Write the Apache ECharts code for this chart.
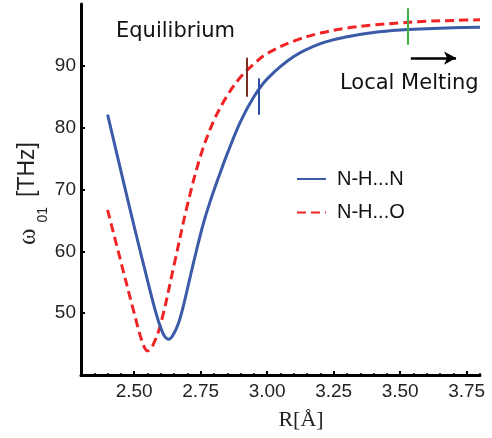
<!DOCTYPE html>
<html>
<head>
<meta charset="utf-8">
<script src="https://cdn.jsdelivr.net/npm/echarts@6/dist/echarts.min.js"></script>
<style>html,body{margin:0;padding:0;background:#fff;}#c{width:492px;height:438px;}</style>
</head>
<body>
<div id="c"></div>
<script>
// ---- data ----
const rNHN = [2.40, 2.45, 2.50, 2.55, 2.58, 2.60, 2.615, 2.63, 2.645, 2.665, 2.685, 2.71, 2.735, 2.76, 2.785, 2.82, 2.85, 2.90, 2.95, 3.00, 3.10, 3.20, 3.30, 3.40, 3.50, 3.60, 3.70, 3.80];
const wNHN = [82.1, 73.0, 64.0, 55.3, 50.3, 47.6, 46.2, 45.8, 46.4, 48.2, 51.2, 55.8, 60.3, 64.5, 68.0, 72.3, 75.8, 81.0, 85.0, 87.9, 91.5, 93.6, 94.7, 95.4, 95.8, 96.0, 96.15, 96.25];
const rNHO = [2.40, 2.45, 2.50, 2.53, 2.55, 2.57, 2.60, 2.65, 2.70, 2.75, 2.80, 2.85, 2.90, 2.95, 3.00, 3.10, 3.20, 3.30, 3.40, 3.50, 3.60, 3.70, 3.80];
const wNHO = [66.7, 58.3, 50.0, 45.4, 43.9, 44.8, 48.3, 57.8, 67.5, 75.5, 81.2, 85.2, 88.2, 90.3, 92.0, 94.0, 95.3, 96.1, 96.6, 96.95, 97.2, 97.35, 97.45];
const seriesNames = ['N-H...N', 'N-H...O'];
const markerR = [2.923, 2.967, 3.53];
const markerLow = [85.0, 82.1, 93.4];
const markerHigh = [91.3, 88.0, 99.3];
const arrowR = [3.54, 3.71];
const arrowW = 91.25;
const xTickLabels = [2.50, 2.75, 3.00, 3.25, 3.50, 3.75];
const xMinorTicks = [2.35, 2.40, 2.45, 2.55, 2.60, 2.65, 2.70, 2.80, 2.85, 2.90, 2.95, 3.05, 3.10, 3.15, 3.20, 3.30, 3.35, 3.40, 3.45, 3.55, 3.60, 3.65, 3.70, 3.80];
const yTickLabels = [50, 60, 70, 80, 90];
const annotations = ['Equilibrium', 'Local Melting'];

const BLUE = '#3b5ba8', RED = '#f02424';
const markerColors = ['#7a2e22', '#2f4fa6', '#3cb043'];

const chart = echarts.init(document.getElementById('c'), null, {renderer: 'canvas'});
const pair = (xs, ys) => xs.map((x, i) => [x, ys[i]]);

const markerLines = markerR.map((r, i) => [
  {coord: [r, markerLow[i]], lineStyle: {color: markerColors[i], width: 2, type: 'solid'}},
  {coord: [r, markerHigh[i]]}
]);

const option = {
  animation: false,
  backgroundColor: '#fff',
  grid: {left: 81, right: 12, top: 4, bottom: 63, containLabel: false},
  legend: {
    orient: 'vertical', left: 296, top: 169, padding: 0, itemWidth: 29, itemHeight: 14, itemGap: 13.5,
    itemStyle: {opacity: 0},
    textStyle: {fontFamily: 'Liberation Sans', fontSize: 20, color: '#111', padding: [0, 0, 0, 6]},
    data: seriesNames
  },
  xAxis: [{
    type: 'value', min: 2.3, max: 3.8,
    axisLine: {lineStyle: {color: '#000', width: 3}},
    axisTick: {inside: true, length: 4, lineStyle: {color: '#000', width: 2}, customValues: xTickLabels},
    axisLabel: {customValues: xTickLabels, formatter: v => v.toFixed(2), fontFamily: 'Liberation Sans', fontSize: 19, color: '#222', margin: 7},
    splitLine: {show: false},
    name: 'R[Å]', nameLocation: 'middle', nameGap: 34, nameMoveOverlap: false,
    nameTextStyle: {fontFamily: 'Liberation Serif', fontSize: 22, color: '#222', padding: [0, 0, 0, 41]}
  }, {
    type: 'value', min: 2.3, max: 3.8, position: 'bottom',
    axisLine: {show: false},
    axisTick: {inside: true, length: 2, lineStyle: {color: '#000', width: 1.5}, customValues: xMinorTicks},
    axisLabel: {show: false, customValues: xMinorTicks},
    splitLine: {show: false}
  }],
  yAxis: {
    type: 'value', min: 40, max: 100, interval: 10,
    axisLine: {show: true, lineStyle: {color: '#000', width: 3}},
    axisTick: {show: true, inside: true, length: 4, lineStyle: {color: '#000', width: 2}, customValues: yTickLabels},
    minorTick: {show: true, splitNumber: 5, length: 2, lineStyle: {color: '#000', width: 1.5}},
    axisLabel: {customValues: yTickLabels, fontFamily: 'Liberation Sans', fontSize: 19, color: '#222', margin: 5},
    splitLine: {show: false},
    name: '{w|ω}{s|01}{t|[THz]}', nameLocation: 'middle', nameRotate: 90, nameGap: 31, nameMoveOverlap: false,
    nameTextStyle: {
      color: '#222',
      rich: {
        w: {fontFamily: 'Liberation Serif', fontSize: 25, lineHeight: 44, color: '#222'},
        s: {fontFamily: 'Liberation Sans', fontSize: 14, lineHeight: 14, verticalAlign: 'bottom', padding: [0, 10, 0, 6], color: '#222'},
        t: {fontFamily: 'Liberation Sans', fontSize: 23, lineHeight: 44, padding: [0, 8, 0, 0], color: '#222'}
      }
    }
  },
  series: [{
    name: seriesNames[0], type: 'line', smooth: 0.35, symbol: 'none', xAxisIndex: 0,
    data: pair(rNHN, wNHN),
    lineStyle: {color: BLUE, width: 3}, itemStyle: {color: BLUE},
    markLine: {silent: true, symbol: ['none', 'none'], label: {show: false}, data: [markerLines[1], markerLines[2]]},
    z: 3
  }, {
    name: seriesNames[1], type: 'line', smooth: 0.35, symbol: 'none', xAxisIndex: 0,
    data: pair(rNHO, wNHO),
    lineStyle: {color: RED, width: 3, type: [9, 5]}, itemStyle: {color: RED},
    markLine: {silent: true, label: {show: false}, data: [
      markerLines[0],
      [{coord: [arrowR[0], arrowW], symbol: 'none', lineStyle: {color: '#000', width: 2.5, type: 'solid'}},
       {coord: [arrowR[1], arrowW], symbol: 'arrow', symbolSize: [10, 12]}]
    ], symbol: ['none', 'none']},
    z: 2
  }],
  graphic: [
    {type: 'text', x: 116, y: 32, style: {text: annotations[0], font: '21px "DejaVu Sans"', fill: '#111', textVerticalAlign: 'middle'}},
    {type: 'text', x: 340, y: 84, style: {text: annotations[1], font: '21px "DejaVu Sans"', fill: '#111', textVerticalAlign: 'middle'}}
  ]
};
chart.setOption(option);
</script>
</body>
</html>
